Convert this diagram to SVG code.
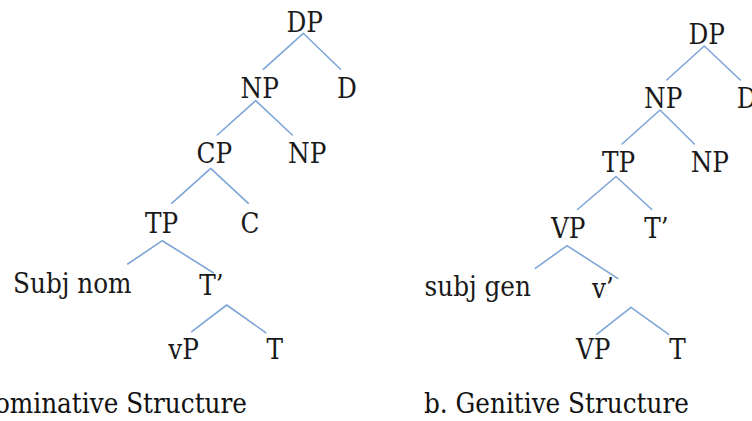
<svg xmlns="http://www.w3.org/2000/svg" width="752" height="421" viewBox="0 0 752 421">
  <style>
    .lbl { font-family: "DejaVu Serif Condensed", "DejaVu Serif", serif; font-stretch: condensed; font-size: 27.5px; fill: #1a1a1a; }
    .cap { font-family: "DejaVu Serif Condensed", "DejaVu Serif", serif; font-stretch: condensed; font-size: 27.5px; fill: #111; }
    .edge { stroke: #7ea6d8; stroke-width: 1.6; fill: none; stroke-linecap: round; stroke-linejoin: round; }
  </style>
  <rect width="752" height="421" fill="#ffffff"/>

  <!-- Tree a: nominative structure -->
  <g id="tree-a">
    <g id="a-edges">
      <polyline class="edge" points="263.3,69.3 303.3,33.3 340.5,69.3"/>
      <polyline class="edge" points="217.3,135 255.7,100.7 292.3,135"/>
      <polyline class="edge" points="171.7,203.3 210.7,168.3 248.3,203.3"/>
      <polyline class="edge" points="127.7,264 162.3,240.7 213.3,272.7"/>
      <polyline class="edge" points="191.7,331.7 226.7,305 265.7,332.7"/>
    </g>
    <g id="a-DP"><text class="lbl" x="286.5" y="32.3">DP</text></g>
    <g id="a-NP"><text class="lbl" x="240.5" y="98.3">NP</text></g>
    <g id="a-D"><text class="lbl" x="337" y="98.3">D</text></g>
    <g id="a-CP"><text class="lbl" x="196.5" y="163.3">CP</text></g>
    <g id="a-NP2"><text class="lbl" x="288" y="163.3">NP</text></g>
    <g id="a-TP"><text class="lbl" x="145" y="233.3">TP</text></g>
    <g id="a-C"><text class="lbl" x="240.5" y="233.3">C</text></g>
    <g id="a-subj"><text class="lbl" x="13" y="293.3">Subj nom</text></g>
    <g id="a-Tbar"><text class="lbl" x="199.3" y="295">T’</text></g>
    <g id="a-vP"><text class="lbl" x="168.3" y="359.3">vP</text></g>
    <g id="a-T"><text class="lbl" x="266.5" y="359.3">T</text></g>
    <text class="cap" x="247" y="413" text-anchor="end">ominative Structure</text>
  </g>

  <!-- Tree b: genitive structure -->
  <g id="tree-b">
    <g id="b-edges">
      <polyline class="edge" points="666.7,80 704.3,46 740.3,80"/>
      <polyline class="edge" points="622,144 660,110 694.3,144"/>
      <polyline class="edge" points="577.5,209.5 616,176.5 651.8,209.5"/>
      <polyline class="edge" points="535.3,268.3 567,245.7 617.7,278.3"/>
      <polyline class="edge" points="596.7,334.3 631,307.3 668.7,334.3"/>
    </g>
    <g id="b-DP"><text class="lbl" x="688.5" y="44">DP</text></g>
    <g id="b-NP"><text class="lbl" x="644" y="108.3">NP</text></g>
    <g id="b-D"><text class="lbl" x="736.7" y="108.3">D</text></g>
    <g id="b-TP"><text class="lbl" x="602" y="171.7">TP</text></g>
    <g id="b-NP2"><text class="lbl" x="690.7" y="171.7">NP</text></g>
    <g id="b-VP"><text class="lbl" x="551" y="238.3">VP</text></g>
    <g id="b-Tbar"><text class="lbl" x="644.3" y="238.3">T’</text></g>
    <g id="b-subj"><text class="lbl" x="424.5" y="295.5">subj gen</text></g>
    <g id="b-vbar"><text class="lbl" x="592" y="297.5">v’</text></g>
    <g id="b-VP2"><text class="lbl" x="576" y="359.3">VP</text></g>
    <g id="b-T"><text class="lbl" x="669.3" y="359.3">T</text></g>
    <text class="cap" x="424" y="413">b. Genitive Structure</text>
  </g>
</svg>
